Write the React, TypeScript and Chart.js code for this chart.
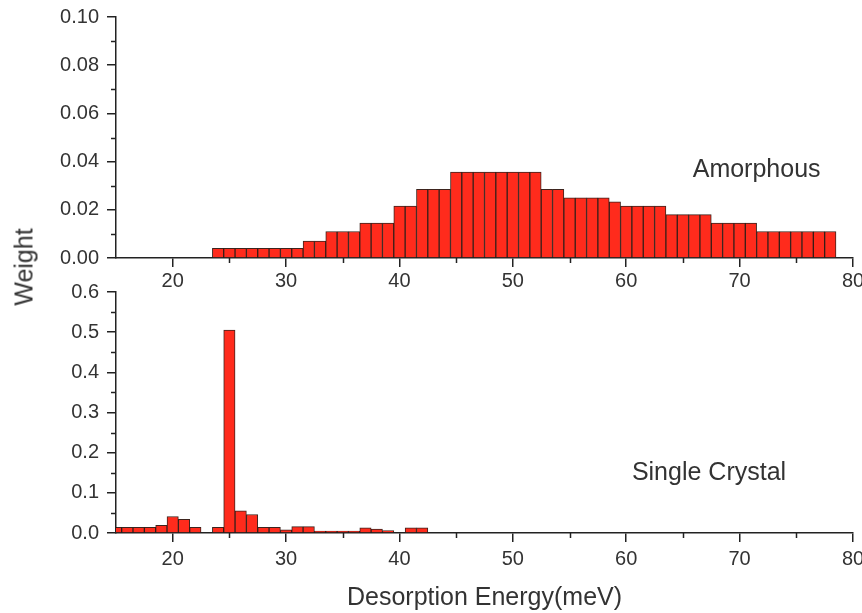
import React, { useEffect, useRef } from 'react';
import { Chart, registerables } from 'chart.js';

Chart.register(...registerables);

// ---------- data ----------
const amorphousEnergy = [
  24, 25, 26, 27, 28, 29, 30, 31, 32, 33, 34, 35, 36, 37, 38, 39, 40, 41, 42, 43,
  44, 45, 46, 47, 48, 49, 50, 51, 52, 53, 54, 55, 56, 57, 58, 59, 60, 61, 62, 63,
  64, 65, 66, 67, 68, 69, 70, 71, 72, 73, 74, 75, 76, 77, 78,
];
const amorphousWeight = [
  0.004, 0.004, 0.004, 0.004, 0.004, 0.004, 0.004, 0.004, // 24-31
  0.007, 0.007, // 32-33
  0.011, 0.011, 0.011, // 34-36
  0.0145, 0.0145, 0.0145, // 37-39
  0.0215, 0.0215, // 40-41
  0.0285, 0.0285, 0.0285, // 42-44
  0.0357, 0.0357, 0.0357, 0.0357, 0.0357, 0.0357, 0.0357, 0.0357, // 45-52
  0.0285, 0.0285, // 53-54
  0.025, 0.025, 0.025, 0.025, // 55-58
  0.0233, // 59
  0.0215, 0.0215, 0.0215, 0.0215, // 60-63
  0.018, 0.018, 0.018, 0.018, // 64-67
  0.0145, 0.0145, 0.0145, 0.0145, // 68-71
  0.011, 0.011, 0.011, 0.011, 0.011, 0.011, 0.011, // 72-78
];

const crystalEnergy = [
  15, 16, 17, 18, 19, 20, 21, 22, 23, 24, 25, 26, 27, 28, 29, 30, 31, 32, 33, 34,
  35, 36, 37, 38, 39, 40, 41, 42,
];
const crystalWeight = [
  0.014, 0.014, 0.014, 0.014, 0.019, 0.041, 0.034, 0.014, 0.0, 0.014,
  0.505, 0.055, 0.046, 0.014, 0.014, 0.008, 0.016, 0.016, 0.005, 0.005,
  0.005, 0.005, 0.013, 0.01, 0.006, 0.0, 0.013, 0.013,
];

const xMajorTicks = [20, 30, 40, 50, 60, 70, 80];
const xMinorTicks = [25, 35, 45, 55, 65, 75];
const topYMajorTicks = [0, 0.02, 0.04, 0.06, 0.08, 0.1];
const topYMinorTicks = [0.01, 0.03, 0.05, 0.07, 0.09];
const bottomYMajorTicks = [0, 0.1, 0.2, 0.3, 0.4, 0.5, 0.6];
const bottomYMinorTicks = [0.05, 0.15, 0.25, 0.35, 0.45, 0.55];

const topLabel = 'Amorphous';
const bottomLabel = 'Single Crystal';
const xTitle = 'Desorption Energy(meV)';
const yTitle = 'Weight';

// ---------- style ----------
const FONT = '"Liberation Sans", Arial, Helvetica, sans-serif';
const TEXT = '#333333';
const AXIS = '#222222';
const BAR_FILL = '#FF2B1C';
const BAR_EDGE = 'rgba(40,12,6,0.9)';
const W = 862;
const AREA_LEFT = 116;
const AREA_RIGHT = 853;
const Y_AXIS_W = 70;

const minorTickPlugin = {
  id: 'minorTicks',
  afterDraw(chart: any, _args: any, opts: any) {
    const { ctx, chartArea, scales } = chart;
    ctx.save();
    ctx.strokeStyle = AXIS;
    ctx.lineWidth = 1.5;
    const len = opts.length || 5;
    (opts.x || []).forEach((v: number) => {
      const px = Math.round(scales.x.getPixelForValue(v)) + 0.5;
      ctx.beginPath();
      ctx.moveTo(px, chartArea.bottom);
      ctx.lineTo(px, chartArea.bottom + len);
      ctx.stroke();
    });
    (opts.y || []).forEach((v: number) => {
      const py = Math.round(scales.y.getPixelForValue(v)) + 0.5;
      ctx.beginPath();
      ctx.moveTo(chartArea.left - len, py);
      ctx.lineTo(chartArea.left, py);
      ctx.stroke();
    });
    ctx.restore();
  },
};

const panelLabelPlugin = {
  id: 'panelLabel',
  afterDraw(chart: any, _args: any, opts: any) {
    if (!opts || !opts.text) return;
    const { ctx, scales } = chart;
    ctx.save();
    ctx.font = `25px ${FONT}`;
    ctx.fillStyle = TEXT;
    ctx.textAlign = 'center';
    ctx.textBaseline = 'alphabetic';
    ctx.fillText(opts.text, scales.x.getPixelForValue(opts.x), scales.y.getPixelForValue(opts.y));
    ctx.restore();
  },
};

function makeConfig(p: {
  energy: number[];
  weight: number[];
  yMax: number;
  yMajor: number[];
  yMinor: number[];
  decimals: number;
  height: number;
  top: number;
  bottom: number;
  xAxisH: number;
  xTickPad: number;
  label: { text: string; x: number; y: number };
  title?: string;
}) {
  return {
    type: 'bar',
    data: {
      datasets: [
        {
          data: p.energy.map((e, i) => ({ x: e, y: p.weight[i] })),
          backgroundColor: BAR_FILL,
          borderColor: BAR_EDGE,
          borderWidth: 1,
          categoryPercentage: 1,
          barPercentage: 1,
          clip: 0,
        },
      ],
    },
    options: {
      responsive: false,
      animation: false,
      events: [],
      layout: {
        padding: {
          left: AREA_LEFT - Y_AXIS_W,
          right: W - AREA_RIGHT,
          top: p.top,
          bottom: p.height - p.bottom - p.xAxisH,
        },
      },
      plugins: {
        legend: { display: false },
        tooltip: { enabled: false },
        minorTicks: { x: xMinorTicks, y: p.yMinor, length: 5 },
        panelLabel: p.label,
      },
      scales: {
        x: {
          type: 'linear',
          min: 15,
          max: 80,
          offset: false,
          afterBuildTicks: (s: any) => {
            s.ticks = xMajorTicks.map((v) => ({ value: v }));
          },
          afterFit: (s: any) => {
            s.height = p.xAxisH;
            s.paddingLeft = 0;
            s.paddingRight = 0;
          },
          grid: {
            offset: false,
            drawOnChartArea: false,
            drawTicks: true,
            tickLength: 9,
            color: AXIS,
            lineWidth: 1.5,
          },
          border: { display: true, color: AXIS, width: 1.5 },
          ticks: {
            font: { family: FONT, size: 20 },
            color: TEXT,
            padding: p.xTickPad,
            maxRotation: 0,
            autoSkip: false,
            callback: (v: any) => String(v),
          },
          title: p.title
            ? {
                display: true,
                text: p.title,
                font: { family: FONT, size: 25, lineHeight: 1 },
                color: TEXT,
                padding: { top: 0, bottom: 2 },
              }
            : { display: false },
        },
        y: {
          type: 'linear',
          min: 0,
          max: p.yMax,
          afterBuildTicks: (s: any) => {
            s.ticks = p.yMajor.map((v) => ({ value: v }));
          },
          afterFit: (s: any) => {
            s.width = Y_AXIS_W;
            s.paddingTop = 0;
            s.paddingBottom = 0;
          },
          grid: {
            drawOnChartArea: false,
            drawTicks: true,
            tickLength: 9,
            color: AXIS,
            lineWidth: 1.5,
          },
          border: { display: true, color: AXIS, width: 1.5 },
          ticks: {
            font: { family: FONT, size: 20 },
            color: TEXT,
            padding: 8,
            autoSkip: false,
            callback: (v: any) => Number(v).toFixed(p.decimals),
          },
        },
      },
    },
    plugins: [minorTickPlugin, panelLabelPlugin],
  } as any;
}

const TOP_H = 300;
const BOTTOM_TOP = 280;
const BOTTOM_H = 613 - BOTTOM_TOP;

export default function App() {
  const topRef = useRef<HTMLCanvasElement | null>(null);
  const bottomRef = useRef<HTMLCanvasElement | null>(null);

  useEffect(() => {
    const top = new Chart(
      topRef.current as HTMLCanvasElement,
      makeConfig({
        energy: amorphousEnergy,
        weight: amorphousWeight,
        yMax: 0.1,
        yMajor: topYMajorTicks,
        yMinor: topYMinorTicks,
        decimals: 2,
        height: TOP_H,
        top: 17,
        bottom: 258,
        xAxisH: 40,
        xTickPad: 2,
        label: { text: topLabel, x: 71.5, y: 0.0336 },
      })
    );
    const bottom = new Chart(
      bottomRef.current as HTMLCanvasElement,
      makeConfig({
        energy: crystalEnergy,
        weight: crystalWeight,
        yMax: 0.6,
        yMajor: bottomYMajorTicks,
        yMinor: bottomYMinorTicks,
        decimals: 1,
        height: BOTTOM_H,
        top: 12,
        bottom: 253,
        xAxisH: BOTTOM_H - 253,
        xTickPad: 5,
        label: { text: bottomLabel, x: 67.3, y: 0.133 },
        title: xTitle,
      })
    );
    return () => {
      top.destroy();
      bottom.destroy();
    };
  }, []);

  return (
    <div
      style={{
        position: 'absolute',
        left: 0,
        top: 0,
        width: W,
        height: 613,
        overflow: 'hidden',
        background: '#ffffff',
      }}
    >
      <canvas
        ref={topRef}
        width={W}
        height={TOP_H}
        style={{ position: 'absolute', left: 0, top: 0, width: W, height: TOP_H }}
      />
      <canvas
        ref={bottomRef}
        width={W}
        height={BOTTOM_H}
        style={{ position: 'absolute', left: 0, top: BOTTOM_TOP, width: W, height: BOTTOM_H }}
      />
      <div
        style={{
          position: 'absolute',
          left: 24,
          top: 267,
          transform: 'translate(-50%, -50%) rotate(-90deg)',
          font: `25px ${FONT}`,
          color: TEXT,
          whiteSpace: 'nowrap',
          lineHeight: 1,
        }}
      >
        {yTitle}
      </div>
    </div>
  );
}
